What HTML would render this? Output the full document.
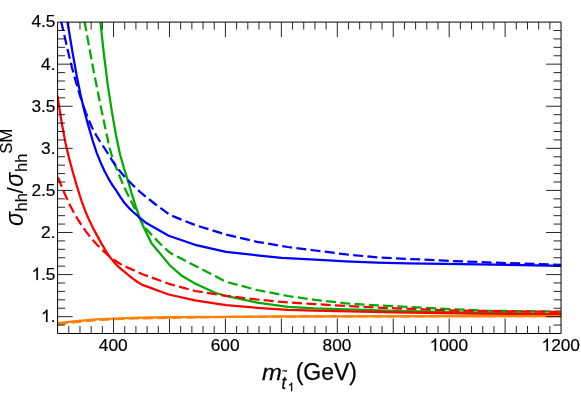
<!DOCTYPE html>
<html><head><meta charset="utf-8"><style>
html,body{margin:0;padding:0;background:#fff;}
body{width:581px;height:393px;position:relative;overflow:hidden;font-family:"Liberation Sans",sans-serif;}
</style></head><body>
<svg width="581" height="393" viewBox="0 0 581 393" style="position:absolute;left:0;top:0;will-change:transform">
<defs><clipPath id="c"><rect x="57.6" y="22.1" width="503.44999999999993" height="311.4"/></clipPath></defs>
<g clip-path="url(#c)" fill="none" stroke-linejoin="round">
<path d="M96.0,-18.0 L100.0,18.1 L104.0,55.2 L108.0,86.7 L112.0,112.4 L116.0,135.2 L120.0,154.3 L124.0,168.3 L128.0,180.9 L132.0,194.7 L136.0,207.4 L140.0,218.5 L142.5,224.7 L151.5,243.2 L163.9,258.1 L170.0,265.5 L181.0,275.2 L195.0,283.5 L215.7,293.0 L226.0,295.8 L257.0,302.6 L288.0,306.8 L315.0,308.3 L395.0,310.9 L475.0,312.7 L561.4,314.0" stroke="#00aa00" stroke-width="2.25"/>
<path d="M77.5,-18.0 L81.5,4.5 L85.5,26.7 L89.5,48.7 L93.5,70.1 L97.5,90.4 L101.5,110.1 L105.5,128.9 L109.5,147.8 L113.5,161.3 L117.5,170.9 L121.5,180.7 L125.5,189.7 L129.5,198.0 L133.5,206.0 L137.5,214.2 L139.5,218.1" stroke="#00aa00" stroke-width="2.25" stroke-dasharray="10 4.3" stroke-dashoffset="3.0"/>
<path d="M139.5,218.1 L141.5,222.0 L145.3,228.1 L160.4,244.0 L170.0,252.8 L178.3,257.1 L195.0,265.8 L226.0,281.7 L257.0,290.0 L288.0,296.0 L315.0,299.8 L346.0,303.3 L377.0,305.4 L408.0,307.0 L445.0,308.8 L485.0,310.7 L561.4,311.6" stroke="#00aa00" stroke-width="2.25" stroke-dasharray="10 4.3" stroke-dashoffset="2.87"/>
<path d="M60.6,-18.0 L64.6,5.4 L68.6,28.8 L72.6,52.9 L76.6,75.3 L80.6,95.0 L84.6,112.0 L88.6,126.6 L92.6,140.3 L96.6,152.6 L100.6,162.5 L104.6,171.2 L108.6,178.8 L112.6,185.3 L116.6,191.1 L120.6,197.4 L124.6,203.1 L128.6,207.6 L132.6,211.5 L136.6,215.0 L140.6,218.5 L146.7,223.3 L168.7,235.7 L195.0,244.8 L226.0,251.8 L257.0,255.3 L281.7,257.9 L315.0,259.6 L346.0,261.3 L377.0,262.6 L408.0,263.3 L445.0,263.9 L561.4,265.8" stroke="#0000ff" stroke-width="2.25"/>
<path d="M52.0,-18.0 L56.0,-0.6 L60.0,16.6 L64.0,33.8 L68.0,51.2 L72.0,67.7 L76.0,82.3 L80.0,95.6 L84.0,107.6 L86.0,112.9" stroke="#0000ff" stroke-width="2.25" stroke-dasharray="10 4.3" stroke-dashoffset="2.8"/>
<path d="M86.0,112.9 L88.0,118.3 L92.0,127.5 L96.0,135.0 L100.0,141.5 L104.0,147.5 L108.0,153.6 L112.0,160.2 L116.0,166.2 L120.0,171.3 L124.0,175.9 L128.0,180.2 L132.0,184.3 L136.0,188.1 L140.0,191.8 L142.5,194.0 L155.0,204.0 L170.0,215.0 L195.0,225.0 L226.0,234.6 L257.0,241.8 L288.0,247.0 L315.0,250.5 L346.0,254.4 L377.0,257.3 L408.0,258.9 L445.0,260.7 L496.6,262.7 L561.4,264.8" stroke="#0000ff" stroke-width="2.25" stroke-dasharray="10 4.3" stroke-dashoffset="6.17"/>
<path d="M57.5,96.0 L61.5,121.7 L65.5,142.9 L69.5,159.9 L73.5,174.5 L77.5,188.1 L81.5,200.9 L85.5,211.7 L89.5,220.8 L93.5,228.9 L97.5,236.4 L101.5,243.6 L105.5,250.4 L109.5,256.5 L113.5,261.6 L117.5,265.8 L121.5,269.4 L125.5,272.7 L129.5,276.0 L133.5,279.1 L137.5,282.0 L141.5,284.4 L142.5,284.9 L168.7,294.5 L195.0,300.3 L226.0,305.1 L257.0,307.8 L288.0,309.9 L315.0,310.7 L395.0,312.4 L475.0,313.7 L561.4,314.2" stroke="#ff0000" stroke-width="2.25"/>
<path d="M57.5,176.2 L61.5,186.1 L65.5,195.5 L69.5,204.2 L73.5,211.9 L77.5,218.8 L81.5,225.1 L85.5,230.9 L89.5,236.1 L93.5,240.8 L97.5,245.2 L101.5,249.2 L105.5,252.9 L109.5,256.3 L113.5,259.4 L117.5,262.2 L121.5,264.6 L125.5,266.6 L129.5,268.4 L133.5,270.1 L137.5,272.0 L141.5,273.8 L142.5,274.2 L170.0,284.2 L195.0,291.0 L226.0,295.8 L257.0,299.5 L288.0,302.5 L315.0,304.1 L346.0,305.9 L377.0,307.6 L395.0,308.3 L445.0,310.2 L475.0,310.9 L561.4,311.9" stroke="#ff0000" stroke-width="2.25" stroke-dasharray="10 4.3" stroke-dashoffset="-1.4"/>
<path d="M57.5,323.2 L75.7,321.2 L96.3,319.3 L113.9,318.5 L141.5,317.7 L169.0,317.2 L226.0,316.8 L315.0,316.3 L561.4,316.1" stroke="#ff8000" stroke-width="2.25"/>
<path d="M57.5,324.3 L75.7,322.2 L96.3,320.0 L113.9,319.1 L141.5,318.3 L169.0,317.8 L226.0,317.0 L315.0,316.4 L561.4,316.1" stroke="#ff8000" stroke-width="2.25" stroke-dasharray="10 4.3" stroke-dashoffset="0"/>
</g>
<path d="M57.6,22.1 H561.05 V333.5 H57.6 Z" fill="none" stroke="#000" stroke-width="1"/>
<path d="M68.79,333.5 v-7.5 M68.79,22.1 v7.5 M79.98,333.5 v-7.5 M79.98,22.1 v7.5 M91.16,333.5 v-7.5 M91.16,22.1 v7.5 M102.35,333.5 v-7.5 M102.35,22.1 v7.5 M113.54,333.5 v-15 M113.54,22.1 v15 M124.73,333.5 v-7.5 M124.73,22.1 v7.5 M135.92,333.5 v-7.5 M135.92,22.1 v7.5 M147.10,333.5 v-7.5 M147.10,22.1 v7.5 M158.29,333.5 v-7.5 M158.29,22.1 v7.5 M169.48,333.5 v-15 M169.48,22.1 v15 M180.67,333.5 v-7.5 M180.67,22.1 v7.5 M191.86,333.5 v-7.5 M191.86,22.1 v7.5 M203.04,333.5 v-7.5 M203.04,22.1 v7.5 M214.23,333.5 v-7.5 M214.23,22.1 v7.5 M225.42,333.5 v-15 M225.42,22.1 v15 M236.61,333.5 v-7.5 M236.61,22.1 v7.5 M247.80,333.5 v-7.5 M247.80,22.1 v7.5 M258.98,333.5 v-7.5 M258.98,22.1 v7.5 M270.17,333.5 v-7.5 M270.17,22.1 v7.5 M281.36,333.5 v-15 M281.36,22.1 v15 M292.55,333.5 v-7.5 M292.55,22.1 v7.5 M303.74,333.5 v-7.5 M303.74,22.1 v7.5 M314.92,333.5 v-7.5 M314.92,22.1 v7.5 M326.11,333.5 v-7.5 M326.11,22.1 v7.5 M337.30,333.5 v-15 M337.30,22.1 v15 M348.49,333.5 v-7.5 M348.49,22.1 v7.5 M359.68,333.5 v-7.5 M359.68,22.1 v7.5 M370.86,333.5 v-7.5 M370.86,22.1 v7.5 M382.05,333.5 v-7.5 M382.05,22.1 v7.5 M393.24,333.5 v-15 M393.24,22.1 v15 M404.43,333.5 v-7.5 M404.43,22.1 v7.5 M415.62,333.5 v-7.5 M415.62,22.1 v7.5 M426.80,333.5 v-7.5 M426.80,22.1 v7.5 M437.99,333.5 v-7.5 M437.99,22.1 v7.5 M449.18,333.5 v-15 M449.18,22.1 v15 M460.37,333.5 v-7.5 M460.37,22.1 v7.5 M471.56,333.5 v-7.5 M471.56,22.1 v7.5 M482.74,333.5 v-7.5 M482.74,22.1 v7.5 M493.93,333.5 v-7.5 M493.93,22.1 v7.5 M505.12,333.5 v-15 M505.12,22.1 v15 M516.31,333.5 v-7.5 M516.31,22.1 v7.5 M527.50,333.5 v-7.5 M527.50,22.1 v7.5 M538.68,333.5 v-7.5 M538.68,22.1 v7.5 M549.87,333.5 v-7.5 M549.87,22.1 v7.5 M57.6,325.07 h7.5 M561.05,325.07 h-7.5 M57.6,316.65 h15 M561.05,316.65 h-15 M57.6,308.23 h7.5 M561.05,308.23 h-7.5 M57.6,299.82 h7.5 M561.05,299.82 h-7.5 M57.6,291.40 h7.5 M561.05,291.40 h-7.5 M57.6,282.99 h7.5 M561.05,282.99 h-7.5 M57.6,274.57 h15 M561.05,274.57 h-15 M57.6,266.15 h7.5 M561.05,266.15 h-7.5 M57.6,257.74 h7.5 M561.05,257.74 h-7.5 M57.6,249.32 h7.5 M561.05,249.32 h-7.5 M57.6,240.91 h7.5 M561.05,240.91 h-7.5 M57.6,232.49 h15 M561.05,232.49 h-15 M57.6,224.07 h7.5 M561.05,224.07 h-7.5 M57.6,215.66 h7.5 M561.05,215.66 h-7.5 M57.6,207.24 h7.5 M561.05,207.24 h-7.5 M57.6,198.83 h7.5 M561.05,198.83 h-7.5 M57.6,190.41 h15 M561.05,190.41 h-15 M57.6,181.99 h7.5 M561.05,181.99 h-7.5 M57.6,173.58 h7.5 M561.05,173.58 h-7.5 M57.6,165.16 h7.5 M561.05,165.16 h-7.5 M57.6,156.75 h7.5 M561.05,156.75 h-7.5 M57.6,148.33 h15 M561.05,148.33 h-15 M57.6,139.91 h7.5 M561.05,139.91 h-7.5 M57.6,131.50 h7.5 M561.05,131.50 h-7.5 M57.6,123.08 h7.5 M561.05,123.08 h-7.5 M57.6,114.67 h7.5 M561.05,114.67 h-7.5 M57.6,106.25 h15 M561.05,106.25 h-15 M57.6,97.83 h7.5 M561.05,97.83 h-7.5 M57.6,89.42 h7.5 M561.05,89.42 h-7.5 M57.6,81.00 h7.5 M561.05,81.00 h-7.5 M57.6,72.59 h7.5 M561.05,72.59 h-7.5 M57.6,64.17 h15 M561.05,64.17 h-15 M57.6,55.75 h7.5 M561.05,55.75 h-7.5 M57.6,47.34 h7.5 M561.05,47.34 h-7.5 M57.6,38.92 h7.5 M561.05,38.92 h-7.5 M57.6,30.51 h7.5 M561.05,30.51 h-7.5" fill="none" stroke="#000" stroke-width="0.85"/>
<g font-family="Liberation Sans, sans-serif" font-size="17.3" fill="#000" stroke="#000" stroke-width="0.2">
<text x="98.81" y="351.00">400</text>
<text x="210.69" y="351.00">600</text>
<text x="322.57" y="351.00">800</text>
<path d="M763 0H583V1147Q518 1085 412.5 1023Q307 961 223 930V1104Q374 1175 487 1276Q600 1377 647 1472H763Z" transform="translate(429.64,351.00) scale(0.00845,-0.00845)" stroke-width="23.7"/><text x="439.26" y="351.00">000</text>
<path d="M763 0H583V1147Q518 1085 412.5 1023Q307 961 223 930V1104Q374 1175 487 1276Q600 1377 647 1472H763Z" transform="translate(541.52,351.00) scale(0.00845,-0.00845)" stroke-width="23.7"/><text x="551.14" y="351.00">200</text>
<text x="31.45" y="27.49">4.5</text>
<text x="41.07" y="69.57">4.</text>
<text x="31.45" y="111.65">3.5</text>
<text x="41.07" y="153.73">3.</text>
<text x="31.45" y="195.81">2.5</text>
<text x="41.07" y="237.89">2.</text>
<path d="M763 0H583V1147Q518 1085 412.5 1023Q307 961 223 930V1104Q374 1175 487 1276Q600 1377 647 1472H763Z" transform="translate(31.45,279.97) scale(0.00845,-0.00845)" stroke-width="23.7"/><text x="41.07" y="279.97">.5</text>
<path d="M763 0H583V1147Q518 1085 412.5 1023Q307 961 223 930V1104Q374 1175 487 1276Q600 1377 647 1472H763Z" transform="translate(41.07,322.05) scale(0.00845,-0.00845)" stroke-width="23.7"/><text x="50.69" y="322.05">.</text>
</g>
<g font-family="Liberation Sans, sans-serif" fill="#000" stroke="#000" stroke-width="0.25">
<text transform="translate(261.9,380) scale(1.08,1)" font-size="22" font-style="italic">m</text>
<text transform="translate(281.5,388.6) scale(1,1.09)" font-size="16.5" font-style="italic">t</text>
<text x="282" y="374.3" font-size="9.2">~</text>
<path d="M763 0H583V1147Q518 1085 412.5 1023Q307 961 223 930V1104Q374 1175 487 1276Q600 1377 647 1472H763Z" transform="translate(287.70,391.20) scale(0.00586,-0.00586)" stroke-width="34.1"/>
<text x="295.7" y="380" font-size="23">(GeV)</text>
<g transform="rotate(-90)" stroke-width="0.1">
<text transform="translate(-226.0,23.1) scale(0.93,1)" font-size="25" font-style="italic" stroke="none">σ</text>
<text x="-211.5" y="26.8" font-size="16.5">hh</text>
<text x="-193.4" y="23.1" font-size="22.5" stroke="none">/</text>
<text transform="translate(-186.7,23.1) scale(0.93,1)" font-size="25" font-style="italic" stroke="none">σ</text>
<text x="-172" y="26.8" font-size="16.5">hh</text>
<text x="-153.7" y="12.3" font-size="16.7">SM</text>
</g>
</g>
</svg>
</body></html>
